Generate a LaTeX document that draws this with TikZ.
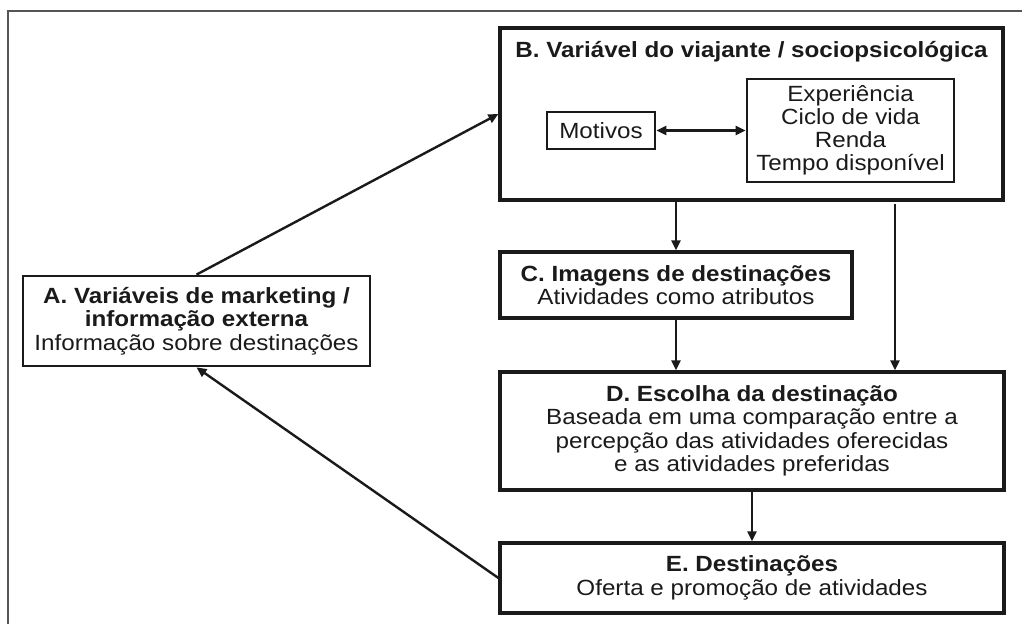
\documentclass[tikz,border=0pt]{standalone}
\usepackage{fontspec}
\setmainfont{Liberation Sans}[FakeStretch=1.1]
\usetikzlibrary{arrows.meta}
\definecolor{ink}{HTML}{1A1A1A}
\definecolor{framegray}{HTML}{555555}
\tikzset{
  box/.style={draw=ink, line width=3.2pt, inner sep=0pt, align=center, text=ink,
              font=\fontsize{22}{23.5}\selectfont},
  inbox/.style={draw=ink, line width=2.6pt, inner sep=0pt, align=center, text=ink,
              font=\fontsize{22}{22.9}\selectfont},
  conn/.style={draw=ink, line width=2.4pt, -{Triangle[length=10pt,width=9pt]}},
  bconn/.style={draw=ink, line width=2.4pt, {Triangle[length=10pt,width=9pt]}-{Triangle[length=10pt,width=9pt]}},
  ttl/.style={text=ink, inner sep=0pt, font=\fontsize{22}{23.5}\selectfont\bfseries}
}
\begin{document}
\begin{tikzpicture}[x=1pt,y=-1pt]
\useasboundingbox (0,0) rectangle (1022,624);
% outer frame (top and left edges visible)
\draw[framegray, line width=1.4pt] (8,624) -- (8,11) -- (1022,11);

% boxes
\node[box, minimum width=503pt, minimum height=172pt] (B) at (751.5,114) {};
\node[ttl] (Bt) at (751.5,52) {B. Variável do viajante / sociopsicológica};
\node[inbox, minimum width=108pt, minimum height=37pt] (M) at (601,130.5) {Motivos};
\node[inbox, minimum width=207pt, minimum height=103pt] (X) at (850.5,130.5)
  {Experiência\\Ciclo de vida\\Renda\\Tempo disponível};

\node[box, minimum width=352pt, minimum height=66pt] (C) at (676,285)
  {\textbf{C. Imagens de destinações}\\Atividades como atributos};

\node[box, minimum width=504pt, minimum height=118pt] (D) at (752,431)
  {\textbf{D. Escolha da destinação}\\Baseada em uma comparação entre a\\percepção das atividades oferecidas\\e as atividades preferidas};

\node[box, minimum width=504pt, minimum height=70pt] (E) at (752,578)
  {\textbf{E. Destinações}\\Oferta e promoção de atividades};

\node[box, line width=2.8pt, minimum width=347pt, minimum height=90pt] (A) at (196.5,321)
  {\textbf{A. Variáveis de marketing /}\\\textbf{informação externa}\\Informação sobre destinações};

% connectors
\path[conn] (A.north) -- (B.west);
\path[conn] (E.west) -- (A.south);
\path[bconn] (M.east) -- (X.west);
\path[conn] (C.north |- B.south) -- (C.north);
\coordinate (Bs) at (895,204);
\path[conn] (Bs) -- (Bs |- D.north);
\path[conn] (C.south) -- (C.south |- D.north);
\path[conn] (D.south) -- (E.north);
\end{tikzpicture}
\end{document}
